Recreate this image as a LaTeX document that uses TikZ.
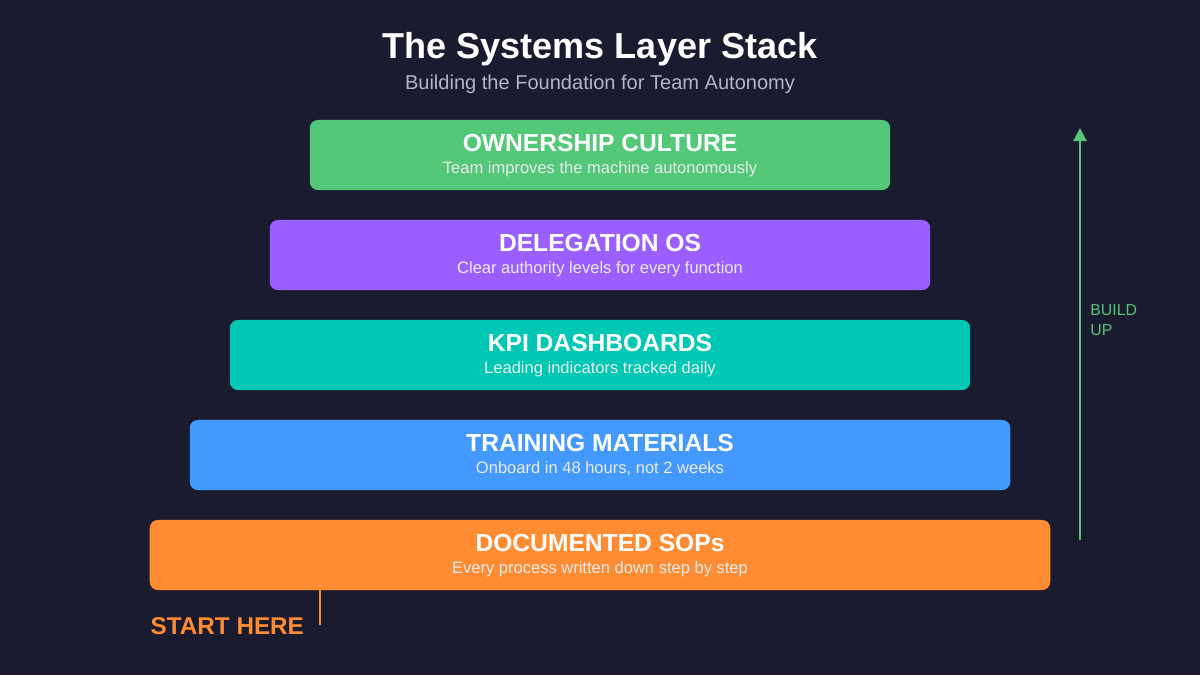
\documentclass[tikz,border=0pt]{standalone}
\usepackage{fontspec}
\setmainfont{Liberation Sans}
\usetikzlibrary{arrows.meta}
\definecolor{bgc}{HTML}{1A1B2E}
\definecolor{cultc}{HTML}{52C878}
\definecolor{delc}{HTML}{9B5FFF}
\definecolor{kpic}{HTML}{00C8B4}
\definecolor{trainc}{HTML}{4499FF}
\definecolor{sopc}{HTML}{FF8C33}
\definecolor{subc}{HTML}{B4B6C8}
\tikzset{
  layer/.style={rounded corners=0.08cm, inner sep=0pt, minimum height=0.7cm},
  head/.style={text=white, font=\bfseries\fontsize{7pt}{8pt}\selectfont},
  note/.style={text=white!92!black, font=\fontsize{4.7pt}{5.5pt}\selectfont},
}
\begin{document}
\begin{tikzpicture}[x=0.01cm,y=-0.01cm]

    \fill[bgc] (0,0) rectangle (1200,675);
    \node (T) at (600,49) {\color{white}\bfseries\fontsize{10.25pt}{12pt}\selectfont The Systems Layer Stack};
    \node (S) at (600,84) {\color{subc}\fontsize{5.7pt}{6.5pt}\selectfont Building the Foundation for Team Autonomy};

    \node[layer, fill=cultc, minimum width=5.8cm] (L5) at (600,155) {};
    \node[layer, fill=delc, minimum width=6.6cm] (L4) at (600,255) {};
    \node[layer, fill=kpic, minimum width=7.4cm] (L3) at (600,355) {};
    \node[layer, fill=trainc, minimum width=8.2cm] (L2) at (600,455) {};
    \node[layer, fill=sopc, minimum width=9.0cm] (L1) at (600,555) {};

    \node[head] (H5) at (600,143) {OWNERSHIP CULTURE};
    \node[note] (N5) at (600,169) {Team improves the machine autonomously};
    \node[head] (H4) at (600,243) {DELEGATION OS};
    \node[note] (N4) at (600,269) {Clear authority levels for every function};
    \node[head] (H3) at (600,343) {KPI DASHBOARDS};
    \node[note] (N3) at (600,369) {Leading indicators tracked daily};
    \node[head] (H2) at (600,443) {TRAINING MATERIALS};
    \node[note] (N2) at (600,469) {Onboard in 48 hours, not 2 weeks};
    \node[head] (H1) at (600,543) {DOCUMENTED SOPs};
    \node[note] (N1) at (600,569) {Every process written down step by step};

    \coordinate (B0) at (1080,540);
    \coordinate (B1) at (1080,128);
    \draw[cultc, line width=0.6pt, -{Triangle[length=0.13cm,width=0.13cm]}] (B0) -- (B1);
    \node[anchor=west, align=left, text=cultc, font=\fontsize{4.5pt}{5.7pt}\selectfont] (BU) at (1078,320) {BUILD\\UP};

    \coordinate (S0) at (320,590);
    \coordinate (S1) at (320,625);
    \draw[sopc, line width=0.5pt] (S0) -- (S1);
    \node[anchor=west, inner sep=0pt, text=sopc, font=\bfseries\fontsize{6.9pt}{7.5pt}\selectfont] (SH) at (150,626) {START HERE};
        \end{tikzpicture}
\end{document}
